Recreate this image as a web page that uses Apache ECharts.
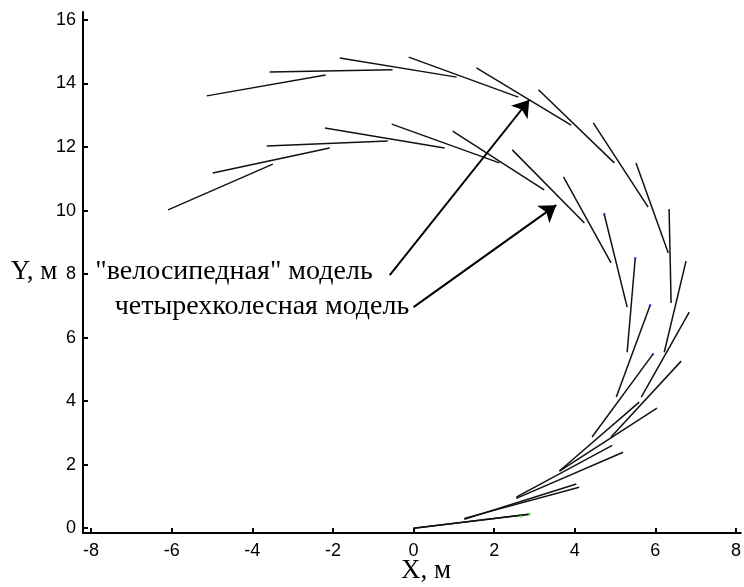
<!DOCTYPE html>
<html>
<head>
<meta charset="utf-8">
<script src="https://cdn.jsdelivr.net/npm/echarts@6/dist/echarts.min.js"></script>
<style>
  html, body { margin: 0; padding: 0; background: #fff; }
  #chart { width: 744px; height: 587px; }
</style>
</head>
<body>
<div id="chart"></div>
<script>
// tick values
const xTicks = [-8, -6, -4, -2, 0, 2, 4, 6, 8];
const yTicks = [0, 2, 4, 6, 8, 10, 12, 14, 16];

// "велосипедная" модель: rear and front points of each position, m
const bikeRear = [
  [-2.18, 14.27], [-0.52, 14.43], [1.07, 14.20], [2.60, 13.57], [3.91, 12.69], [4.98, 11.50],
  [5.82, 10.11], [6.32, 8.66], [6.39, 7.09], [6.22, 5.54], [5.65, 4.13], [4.90, 2.87],
  [3.62, 1.80], [2.55, 0.94], [1.26, 0.31], [0, 0]
];
const bikeFront = [
  [-5.13, 13.61], [-3.57, 14.36], [-1.83, 14.80], [-0.12, 14.83], [1.56, 14.49], [3.10, 13.80],
  [4.46, 12.76], [5.52, 11.50], [6.34, 10.05], [6.76, 8.41], [6.84, 6.80], [6.64, 5.26],
  [6.04, 3.78], [5.20, 2.39], [4.11, 1.29], [2.87, 0.44]
];

// четырехколесная модель
const carRear = [
  [-3.49, 11.46], [-2.08, 11.97], [-0.64, 12.19], [0.77, 11.97], [2.13, 11.50], [3.24, 10.65],
  [4.24, 9.61], [4.90, 8.35], [5.30, 6.96], [5.30, 5.54], [5.03, 4.13], [4.43, 2.87],
  [3.62, 1.80], [2.55, 0.98], [1.26, 0.28], [0, 0]
];
const carFront = [
  [-6.09, 10.02], [-4.98, 11.18], [-3.64, 12.03], [-2.20, 12.60], [-0.54, 12.72], [0.97, 12.50],
  [2.45, 11.91], [3.72, 11.06], [4.73, 9.89], [5.50, 8.50], [5.87, 7.02], [5.94, 5.48],
  [5.60, 3.97], [4.93, 2.61], [4.04, 1.39], [2.87, 0.44]
];

// small coloured front marks seen on a few positions
const blueMarks = [[4.73, 9.89], [5.50, 8.50], [5.87, 7.02], [5.94, 5.48]];
const greenMarks = [[2.67, 0.38], [2.87, 0.44]];

// annotations
const labels = ['"велосипедная" модель', 'четырехколесная модель'];
const arrowFrom = [[-0.59, 7.97], [0.0, 6.96]];
const arrowTo = [[2.87, 13.48], [3.54, 10.17]];

function segs(rear, front) {
  return rear.map((r, i) => ({ coords: [r, front[i]] }));
}

const chart = echarts.init(document.getElementById('chart'));

const tickFont = {
  color: '#000',
  fontFamily: 'Liberation Sans, Arial, sans-serif',
  fontSize: 18
};
const serif = '"Liberation Serif", "Times New Roman", serif';

const option = {
  animation: false,
  backgroundColor: '#fff',
  grid: { left: 83, right: 2, top: 12, bottom: 54 },
  xAxis: {
    type: 'value',
    min: -8.2,
    max: 8.12,
    axisLine: { show: true, onZero: false, lineStyle: { color: '#000', width: 2 } },
    axisTick: { show: true, inside: true, length: 5, customValues: xTicks, lineStyle: { color: '#000', width: 2 } },
    axisLabel: { show: true, customValues: xTicks, margin: 9, ...tickFont },
    splitLine: { show: false }
  },
  yAxis: {
    type: 'value',
    min: -0.15,
    max: 16.25,
    axisLine: { show: true, onZero: false, lineStyle: { color: '#000', width: 2 } },
    axisTick: { show: true, inside: true, length: 5, customValues: yTicks, lineStyle: { color: '#000', width: 2 } },
    axisLabel: { show: true, customValues: yTicks, margin: 7, ...tickFont },
    splitLine: { show: false }
  },
  graphic: [
    { type: 'text', x: 34, y: 272, style: { text: 'Y, м', font: '27px ' + serif, fill: '#000', align: 'center', verticalAlign: 'middle' } },
    { type: 'text', x: 426, y: 584, style: { text: 'X, м', font: '27px ' + serif, fill: '#000', align: 'center', verticalAlign: 'bottom' } },
    { type: 'text', x: 234, y: 272, style: { text: labels[0], font: '28px ' + serif, fill: '#000', align: 'center', verticalAlign: 'middle' } },
    { type: 'text', x: 262, y: 307, style: { text: labels[1], font: '28px ' + serif, fill: '#000', align: 'center', verticalAlign: 'middle' } }
  ],
  series: [
    {
      name: 'bike',
      type: 'lines',
      coordinateSystem: 'cartesian2d',
      symbol: 'none',
      lineStyle: { color: '#111', width: 1.5, opacity: 1 },
      data: segs(bikeRear, bikeFront)
    },
    {
      name: 'car',
      type: 'lines',
      coordinateSystem: 'cartesian2d',
      symbol: 'none',
      lineStyle: { color: '#111', width: 1.5, opacity: 1 },
      data: segs(carRear, carFront)
    },
    {
      name: 'blue',
      type: 'scatter',
      symbolSize: 2.5,
      itemStyle: { color: '#2020ff' },
      data: blueMarks
    },
    {
      name: 'green',
      type: 'scatter',
      symbolSize: 2.5,
      itemStyle: { color: '#20e020' },
      data: greenMarks
    },
    {
      name: 'arrows',
      type: 'lines',
      coordinateSystem: 'cartesian2d',
      symbol: ['none', 'arrow'],
      symbolSize: 16,
      lineStyle: { color: '#000', width: 2, opacity: 1 },
      data: arrowFrom.map((f, i) => ({ coords: [f, arrowTo[i]] }))
    }
  ]
};

chart.setOption(option);
</script>
</body>
</html>
